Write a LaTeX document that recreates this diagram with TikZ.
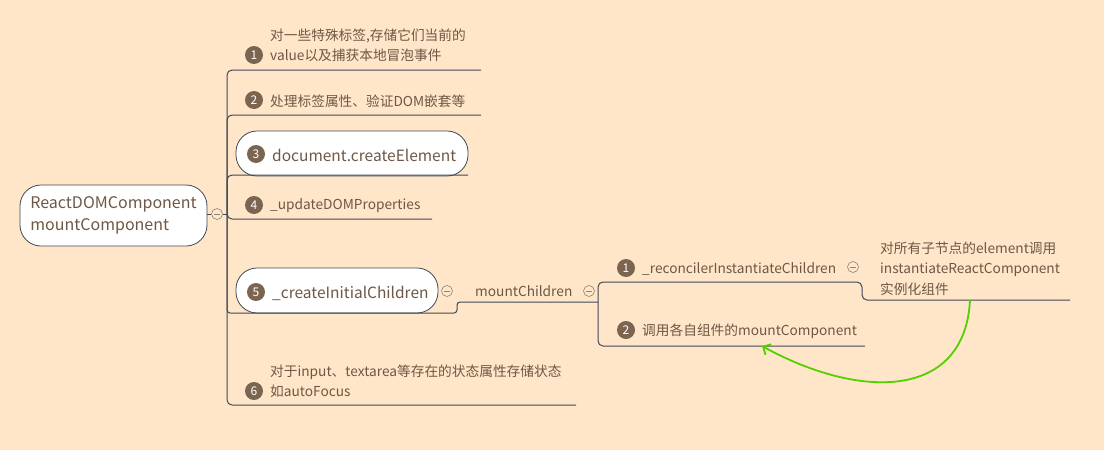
\documentclass[tikz,border=0pt]{standalone}
\usepackage{fontspec}
\setmainfont{Noto Sans CJK SC}
\usetikzlibrary{arrows.meta}
\definecolor{bg}{HTML}{FFE6C9}
\definecolor{txt}{HTML}{6E5845}
\definecolor{numc}{HTML}{7B6550}
\definecolor{ln}{HTML}{3F4A56}
\definecolor{colc}{HTML}{8A8580}
\definecolor{grn}{HTML}{52D000}
\begin{document}
\begin{tikzpicture}[x=1pt,y=-1pt,
  lbl/.style={text=txt,anchor=west,inner sep=0pt,align=left,font=\fontsize{13.7}{20.5}\selectfont},
  big/.style={text=txt,anchor=west,inner sep=0pt,align=left,font=\fontsize{15.5}{22}\selectfont},
  num/.style={circle,fill=numc,text=white,minimum size=18pt,inner sep=0pt,font=\fontsize{12}{12}\selectfont},
  pill/.style={draw=ln,fill=white,line width=0.8pt,rounded corners=21pt,inner sep=0pt},
  br/.style={draw=ln,line width=1pt,rounded corners=5pt},
  col/.style={circle,draw=colc,fill=bg,line width=0.6pt,minimum size=11pt,inner sep=0pt,
    path picture={\draw[colc,line width=0.6pt] ([xshift=-3pt]path picture bounding box.center) -- ([xshift=3pt]path picture bounding box.center);}},
  greenarrow/.style={draw=grn,line width=1.8pt,-{Straight Barb[length=6pt,width=12pt,line width=1.8pt]}}
]
\useasboundingbox[fill=bg] (0,0) rectangle (1104,450);

% root
\node[pill,minimum width=187pt,minimum height=61pt,text=txt,align=left,
  font=\fontsize{16}{22}\selectfont] (root) at (113.5,215.5) {ReactDOMComponent\\mountComponent};
\node[col] (c0) at (217,214) {};
\coordinate (T) at (227,214);

% branch 1
\node[num] (n1) at (254,55) {1};
\node[lbl] (t1) at (270,45.5) {对一些特殊标签,存储它们当前的\\value以及捕获本地冒泡事件};
\coordinate (u1) at (481,70);
% branch 2
\node[num] (n2) at (254,100) {2};
\node[lbl] (t2) at (270,101) {处理标签属性、验证DOM嵌套等};
\coordinate (u2) at (481,115);
% branch 3
\node[pill,minimum width=232pt,minimum height=45pt] (b3) at (352,153.5) {};
\node[num] (n3) at (256,154) {3};
\node[big] (t3) at (272,155) {document.createElement};
\coordinate (u3) at (468,175);
% branch 4
\node[num] (n4) at (254,205) {4};
\node[lbl] (t4) at (270,206) {\_updateDOMProperties};
\coordinate (u4) at (432,219);
% branch 5
\node[pill,minimum width=202pt,minimum height=45pt] (b5) at (337,290.5) {};
\node[num] (n5) at (256,292) {5};
\node[big] (t5) at (272,293) {\_createInitialChildren};
\coordinate (u5) at (457,313);
\node[col] (c5) at (447,291) {};
\node[lbl] (mc) at (475,291) {mountChildren};
\node[col] (cm) at (589,291) {};
\coordinate (S) at (598,302);
% branch 6
\node[num] (n6) at (254,391) {6};
\node[lbl] (t6) at (270,381.5) {对于input、textarea等存在的状态属性存储状态\\如autoFocus};
\coordinate (u6) at (576,405);

% sub branches
\node[num] (s1) at (626,268) {1};
\node[lbl] (st1) at (642,269) {\_reconcilerInstantiateChildren};
\node[col] (cs1) at (853,267) {};
\coordinate (su1) at (862,282);
\node[lbl] (leaf) at (880,268.5) {对所有子节点的element调用\\instantiateReactComponent\\实例化组件};
\coordinate (lu) at (1070,300);
\node[num] (s2) at (626,330) {2};
\node[lbl] (st2) at (642,331) {调用各自组件的mountComponent};
\coordinate (su2) at (865,346);

% connectors
\draw[ln,line width=1pt] (root.east |- c0) -- (c0.west);
\draw[ln,line width=1pt] (c0.east) -- (T);
\draw[br] (T) |- (u1);
\draw[br] (T) |- (u2);
\draw[br] (T) |- (u3);
\draw[br] (T) |- (u4);
\draw[br,rounded corners=3pt] (T) |- (u5) |- (S);
\draw[br] (T) |- (u6);
\draw[br] (S) |- (su1) |- (lu);
\draw[br] (S) |- (su2);

% green arrow
\coordinate (g0) at (970,300);
\coordinate (g1) at (762,346);
\draw[greenarrow] (g0) .. controls (965,400) and (860,400) .. (g1);
\end{tikzpicture}
\end{document}
